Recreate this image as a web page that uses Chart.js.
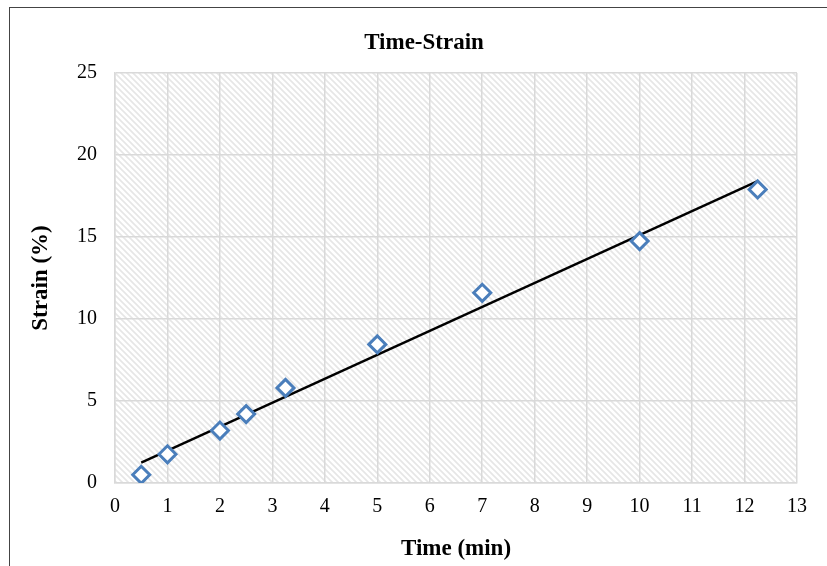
<!DOCTYPE html>
<html>
<head>
<meta charset="utf-8">
<script src="https://cdn.jsdelivr.net/npm/chart.js@4/dist/chart.umd.min.js"></script>
<style>
  html, body { margin: 0; padding: 0; background: #fff; }
  #wrap { position: relative; width: 827px; height: 566px; }
  #frame {
    position: absolute; left: 9px; top: 7px; right: 0; bottom: 0;
    border-left: 1px solid #444; border-top: 1px solid #444;
    pointer-events: none;
  }
</style>
</head>
<body>
<div id="wrap">
  <canvas id="chart" width="827" height="566"></canvas>
  <div id="frame"></div>
</div>
<script>
// time in minutes
const timeMin = [0.5, 1, 2, 2.5, 3.25, 5, 7, 10, 12.25];
// strain in percent
const strainPct = [0.5, 1.75, 3.2, 4.2, 5.8, 8.45, 11.6, 14.75, 17.9];

const xTicks = { min: 0, max: 13, step: 1 };
const yTicks = { min: 0, max: 25, step: 5 };

const chartTitle = 'Time-Strain';

// least squares trend line over the measured points
function trend(xs, ys) {
  const n = xs.length;
  const mx = xs.reduce((a, b) => a + b, 0) / n;
  const my = ys.reduce((a, b) => a + b, 0) / n;
  let sxy = 0, sxx = 0;
  for (let i = 0; i < n; i++) {
    sxy += (xs[i] - mx) * (ys[i] - my);
    sxx += (xs[i] - mx) * (xs[i] - mx);
  }
  const k = sxy / sxx;
  const b = my - k * mx;
  const x0 = Math.min(...xs), x1 = Math.max(...xs);
  return [{ x: x0, y: k * x0 + b }, { x: x1, y: k * x1 + b }];
}

function hatch() {
  const c = document.createElement('canvas');
  c.width = 6; c.height = 6;
  const g = c.getContext('2d');
  g.strokeStyle = '#e6e6e6';
  g.lineWidth = 1.6;
  g.beginPath();
  g.moveTo(-1, -1); g.lineTo(7, 7);
  g.moveTo(-1, 5); g.lineTo(1, 7);
  g.moveTo(5, -1); g.lineTo(7, 1);
  g.stroke();
  return c;
}

const serif = 'Liberation Serif, Times New Roman, serif';

const plotBg = {
  id: 'plotBg',
  beforeDraw(chart) {
    const { ctx, chartArea: a } = chart;
    ctx.save();
    ctx.fillStyle = '#fff';
    ctx.fillRect(0, 0, chart.width, chart.height);
    ctx.fillStyle = ctx.createPattern(hatch(), 'repeat');
    ctx.fillRect(a.left, a.top, a.right - a.left, a.bottom - a.top);
    ctx.restore();
  },
  afterDraw(chart) {
    // title sits centred on the outer frame, not on the plot
    const ctx = chart.ctx;
    ctx.save();
    ctx.fillStyle = '#000';
    ctx.font = 'bold 23px ' + serif;
    ctx.textAlign = 'center';
    ctx.textBaseline = 'middle';
    ctx.fillText(chartTitle, 424, 43);
    ctx.restore();
  }
};

new Chart(document.getElementById('chart'), {
  type: 'scatter',
  data: {
    datasets: [
      {
        label: 'Strain',
        data: timeMin.map((t, i) => ({ x: t, y: strainPct[i] })),
        pointStyle: 'rectRot',
        pointRadius: 8.5,
        pointBorderWidth: 3,
        pointBorderColor: '#4a7ebb',
        pointBackgroundColor: '#fff',
        order: 1
      },
      {
        type: 'line',
        label: 'Trend',
        data: trend(timeMin, strainPct),
        borderColor: '#000',
        borderWidth: 2.4,
        pointRadius: 0,
        order: 2
      }
    ]
  },
  options: {
    responsive: false,
    animation: false,
    layout: { padding: { left: 0, right: 30, top: 73, bottom: 0 } },
    plugins: {
      legend: { display: false },
      tooltip: { enabled: false },
      title: { display: false }
    },
    scales: {
      x: {
        type: 'linear',
        min: xTicks.min,
        max: xTicks.max,
        afterFit(s) { s.height = 83; },
        ticks: { stepSize: xTicks.step, color: '#000', padding: 12, font: { family: serif, size: 20 } },
        grid: { color: '#d9d9d9', lineWidth: 1.5, drawTicks: false },
        border: { color: '#d9d9d9', width: 1.5 },
        title: {
          display: true,
          text: 'Time (min)',
          color: '#000',
          font: { family: serif, size: 23, weight: 'bold' },
          padding: { top: 0, bottom: 3 }
        }
      },
      y: {
        min: yTicks.min,
        max: yTicks.max,
        afterFit(s) { s.width = 115; },
        ticks: { stepSize: yTicks.step, color: '#000', padding: 18, font: { family: serif, size: 20 } },
        grid: { color: '#d9d9d9', lineWidth: 1.5, drawTicks: false },
        border: { color: '#d9d9d9', width: 1.5 },
        title: {
          display: true,
          text: 'Strain (%)',
          color: '#000',
          font: { family: serif, size: 23, weight: 'bold' },
          padding: { top: 27, bottom: 0 }
        }
      }
    }
  },
  plugins: [plotBg]
});
</script>
</body>
</html>
